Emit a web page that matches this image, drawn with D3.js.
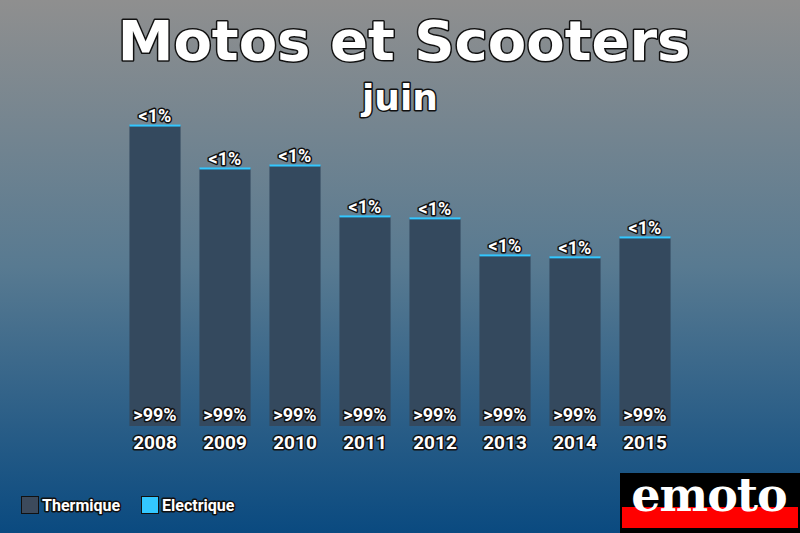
<!DOCTYPE html>
<html><head><meta charset="utf-8">
<script src="https://cdn.jsdelivr.net/npm/d3@7"></script>
<style>html,body{margin:0;padding:0;}svg{display:block;}</style>
</head><body>
<svg id="c" width="800" height="533"></svg>
<script>
const years = ["2008","2009","2010","2011","2012","2013","2014","2015"];
const thermique = [21430, 18370, 18580, 14950, 14810, 12170, 12030, 13450];
const electrique = [40, 30, 35, 30, 28, 25, 27, 32];
const topLabels = ["<1%","<1%","<1%","<1%","<1%","<1%","<1%","<1%"];
const bottomLabels = [">99%",">99%",">99%",">99%",">99%",">99%",">99%",">99%"];
const legendNames = ["Thermique","Electrique"];
const colors = ["#34495e","#33c7ff"];

const svg = d3.select("#c");
const defs = svg.append("defs");
const g = defs.append("linearGradient").attr("id","bg").attr("x1",0).attr("y1",0).attr("x2",0).attr("y2",1);
g.append("stop").attr("offset","0%").attr("stop-color","#8f8f8f");
g.append("stop").attr("offset","50%").attr("stop-color","#587a91");
g.append("stop").attr("offset","100%").attr("stop-color","#0a4a80");
svg.append("rect").attr("width",800).attr("height",533).attr("fill","url(#bg)");

const x = d3.scaleBand().domain(years).range([120,680]).paddingInner(0.27).paddingOuter(0.135);
const y = d3.scaleLinear().domain([0, 21430+40]).range([426, 125]);

const bars = svg.append("g");
years.forEach((yr,i)=>{
  const t = thermique[i], e = electrique[i];
  bars.append("rect").attr("x",x(yr)).attr("width",x.bandwidth())
    .attr("y",y(t)).attr("height",y(0)-y(t)).attr("fill",colors[0]);
  const eh = Math.max(2, y(t)-y(t+e));
  bars.append("rect").attr("x",x(yr)).attr("width",x.bandwidth())
    .attr("y",y(t)-eh+1).attr("height",eh).attr("fill",colors[1]);
});

function outlined(sel){
  return sel.attr("fill","#fff").attr("stroke","#111").attr("stroke-width",3)
    .attr("paint-order","stroke").attr("stroke-linejoin","round");
}

years.forEach((yr,i)=>{
  const cx = x(yr)+x.bandwidth()/2;
  outlined(svg.append("text").attr("x",cx).attr("y",y(thermique[i]+electrique[i])-3)
    .attr("text-anchor","middle").attr("font-family","Roboto").attr("font-weight","bold")
    .attr("font-size",18).text(topLabels[i]));
  outlined(svg.append("text").attr("x",cx).attr("y",421)
    .attr("text-anchor","middle").attr("font-family","Roboto").attr("font-weight","bold")
    .attr("font-size",18).text(bottomLabels[i]));
});

const xAxis = svg.append("g").attr("transform","translate(0,426)")
  .call(d3.axisBottom(x).tickSize(0).tickPadding(6));
xAxis.select(".domain").remove();
xAxis.selectAll("text").attr("font-family","Roboto").attr("font-weight","bold").attr("font-size",19)
  .attr("dy","0.88em").call(outlined);

outlined(svg.append("text").attr("x",404).attr("y",60).attr("text-anchor","middle")
  .attr("font-family","DejaVu Sans").attr("font-weight","bold").attr("font-size",56)
  .attr("stroke-width",3).text("Motos et Scooters"));
outlined(svg.append("text").attr("x",400).attr("y",110).attr("text-anchor","middle")
  .attr("font-family","DejaVu Sans").attr("font-weight","bold").attr("font-size",36)
  .attr("stroke-width",3).text("juin"));

const leg = svg.append("g");
const lx = [21,141];
legendNames.forEach((n,i)=>{
  leg.append("rect").attr("x",lx[i]+0.5).attr("y",496.5).attr("width",17).attr("height",17)
    .attr("fill",i===0?"#3c4a5c":colors[1]).attr("stroke","#111").attr("stroke-width",1);
  outlined(leg.append("text").attr("x",lx[i]+21).attr("y",511).attr("font-family","Roboto")
    .attr("font-weight","bold").attr("font-size",16).attr("stroke-width",2).text(n));
});

const logo = svg.append("g");
logo.append("rect").attr("x",620).attr("y",473).attr("width",180).attr("height",60).attr("fill","#000");
logo.append("rect").attr("x",622).attr("y",507).attr("width",176).attr("height",21).attr("fill","#f00");
logo.append("text").attr("x",709).attr("y",511).attr("text-anchor","middle")
  .attr("font-family","DejaVu Serif").attr("font-weight","bold").attr("font-size",46)
  .attr("fill","#fff").attr("letter-spacing",-1).text("emoto");
</script>
</body></html>
